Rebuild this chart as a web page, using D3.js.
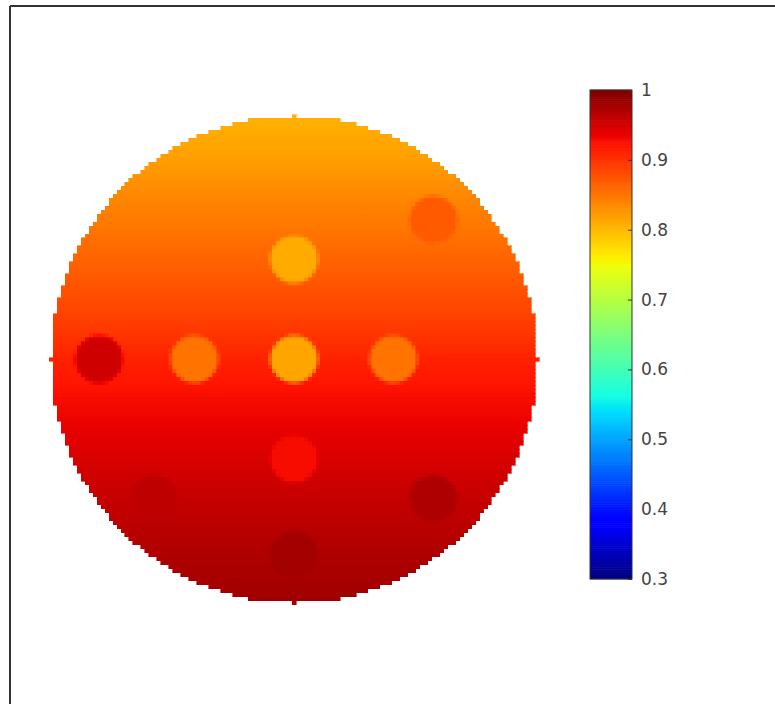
<!doctype html>
<html lang="en">
<head>
	<meta charset="UTF-8">
	<title>phantom map</title>
	<script src="https://d3js.org/d3.v7.min.js"></script>
	<style>
		body { margin: 0; background: white; }
		svg { display: block; }
	</style>
</head>
<body>
	<div id="chart"></div>
	<script>
		var w = 775
		var h = 704

		// grid is 123 x 123 cells, offsets -61..61 from the centre cell
		var grid_offsets = d3.range(-61, 62)
		var disk_radius = 61

		// background level, per row offset (top -> bottom)
		var row_offsets = [-61, -50, -40, -30, -20, -10, 0, 10, 20, 30, 40, 50, 61]
		var row_levels = [0.805, 0.82, 0.838, 0.855, 0.872, 0.89, 0.912, 0.928, 0.94, 0.952, 0.962, 0.972, 0.98]

		// round inserts (cell offsets and value)
		var insert_x = [0, 0, -25, 25, 0, -49, 35, 35, -35, 0]
		var insert_y = [-25, 0, 0, 0, 25, 0, -35, 35, 35, 49]
		var insert_value = [0.81, 0.815, 0.852, 0.852, 0.928, 0.952, 0.87, 0.972, 0.962, 0.978]
		var insert_radius = 6

		// colorbar
		var cbar_min = 0.3
		var cbar_max = 1
		var cbar_ticks = [0.3, 0.4, 0.5, 0.6, 0.7, 0.8, 0.9, 1]
		var cbar_labels = ['0.3', '0.4', '0.5', '0.6', '0.7', '0.8', '0.9', '1']

		var svg = d3.select('#chart')
			.append('svg')
			.attr('width', w)
			.attr('height', h)

		/* ---------------------------------- jet ---------------------------------- */
		var jet_r = d3.scaleLinear().domain([0, 0.35, 0.66, 0.89, 1]).range([0, 0, 1, 1, 0.5]).clamp(true)
		var jet_g = d3.scaleLinear().domain([0, 0.125, 0.375, 0.64, 0.91, 1]).range([0, 0, 1, 1, 0, 0]).clamp(true)
		var jet_b = d3.scaleLinear().domain([0, 0.11, 0.34, 0.65, 1]).range([0.5, 1, 1, 0, 0]).clamp(true)
		var norm = d3.scaleLinear().domain([cbar_min, cbar_max]).range([0, 1]).clamp(true)

		function jet(v) {
			var t = norm(v)
			return d3.rgb(jet_r(t) * 255, jet_g(t) * 255, jet_b(t) * 255).toString()
		}

		/* --------------------------------- frame --------------------------------- */
		svg.append('line')
			.attr('x1', 10).attr('y1', 6).attr('x2', 10).attr('y2', h)
			.attr('stroke', '#333').attr('stroke-width', 2)
		svg.append('line')
			.attr('x1', 10).attr('y1', 6).attr('x2', w).attr('y2', 6)
			.attr('stroke', '#333').attr('stroke-width', 2)

		/* ---------------------------------- map ---------------------------------- */
		var x = d3.scaleBand().domain(grid_offsets).range([49.3, 539.3])
		var y = d3.scaleBand().domain(grid_offsets).range([114.5, 604.5])
		var bg = d3.scaleLinear().domain(row_offsets).range(row_levels)

		var cells = []
		grid_offsets.forEach(function (j) {
			grid_offsets.forEach(function (i) {
				if (i * i + j * j > disk_radius * disk_radius) return
				var v = bg(j)
				for (var k = 0; k < insert_x.length; k++) {
					var d = Math.sqrt((i - insert_x[k]) ** 2 + (j - insert_y[k]) ** 2)
					var a = Math.max(0, Math.min(1, insert_radius + 0.5 - d))
					if (a > 0) v = v + (insert_value[k] - v) * a
				}
				cells.push({i: i, j: j, v: v})
			})
		})

		svg.append('g')
			.attr('shape-rendering', 'crispEdges')
			.selectAll('rect')
			.data(cells)
			.join('rect')
			.attr('x', function (d) { return x(d.i) })
			.attr('y', function (d) { return y(d.j) })
			.attr('width', x.bandwidth())
			.attr('height', y.bandwidth())
			.attr('fill', function (d) { return jet(d.v) })
			.attr('stroke', function (d) { return jet(d.v) })
			.attr('stroke-width', 0.6)

		/* -------------------------------- colorbar ------------------------------- */
		var cb_x = 590
		var cb_w = 42
		var cy = d3.scaleLinear().domain([cbar_min, cbar_max]).range([579, 90])

		var steps = d3.range(256).map(function (k) {
			return cbar_min + (cbar_max - cbar_min) * k / 256
		})
		var step_h = (cy(cbar_min) - cy(cbar_max)) / 256

		svg.append('g')
			.selectAll('rect')
			.data(steps)
			.join('rect')
			.attr('x', cb_x)
			.attr('y', function (d) { return cy(d) - step_h - 0.3 })
			.attr('width', cb_w)
			.attr('height', step_h + 0.6)
			.attr('fill', function (d) { return jet(d + (cbar_max - cbar_min) / 512) })

		svg.append('rect')
			.attr('x', cb_x)
			.attr('y', cy(cbar_max))
			.attr('width', cb_w)
			.attr('height', cy(cbar_min) - cy(cbar_max))
			.attr('fill', 'none')
			.attr('stroke', '#333')
			.attr('stroke-width', 1)

		var axis = d3.axisRight(cy)
			.tickValues(cbar_ticks)
			.tickFormat(function (d, i) { return cbar_labels[i] })
			.tickSizeInner(-4)
			.tickSizeOuter(0)
			.tickPadding(9)

		var ax = svg.append('g')
			.attr('transform', 'translate(' + (cb_x + cb_w) + ',0)')
			.call(axis)
		ax.select('.domain').remove()
		ax.selectAll('.tick line').attr('stroke', '#333')
		ax.selectAll('.tick text')
			.attr('fill', '#444')
			.style('font-family', 'DejaVu Sans, sans-serif')
			.style('font-size', '17px')
	</script>
</body>
</html>
